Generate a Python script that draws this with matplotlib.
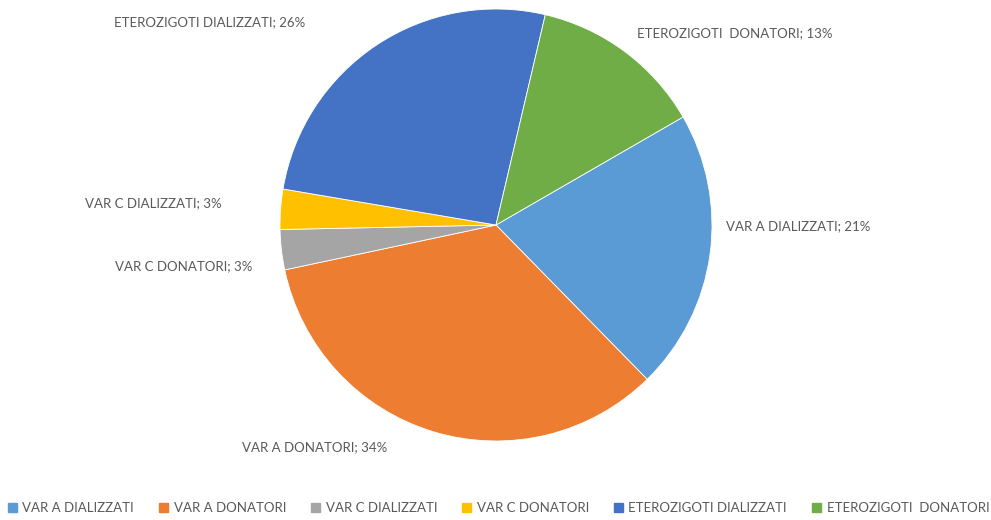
import matplotlib.pyplot as plt

# --- DATA ---
categories = ['VAR A DIALIZZATI', 'VAR A DONATORI', 'VAR C DIALIZZATI',
              'VAR C DONATORI', 'ETEROZIGOTI DIALIZZATI', 'ETEROZIGOTI  DONATORI']
percent = [21, 34, 3, 3, 26, 13]
# slice labels as printed on the chart (the two VAR C labels are swapped there)
slice_names = ['VAR A DIALIZZATI', 'VAR A DONATORI', 'VAR C DONATORI',
               'VAR C DIALIZZATI', 'ETEROZIGOTI DIALIZZATI', 'ETEROZIGOTI  DONATORI']
colors = ['#5B9BD5', '#ED7D31', '#A5A5A5', '#FFC000', '#4472C4', '#70AD47']

# label anchors in pixels (x, y from top) and alignment
CX, CY, R = 496, 225, 216
label_pos = [(726, 226, 'left'), (242, 447, 'left'), (252, 266, 'right'),
             (222, 203, 'right'), (305, 22, 'right'), (637, 33, 'left')]

plt.rcParams['font.family'] = ['Lato', 'DejaVu Sans']
TXT = '#595959'

fig = plt.figure(figsize=(9.91, 5.2), dpi=100)
ax = fig.add_axes([(CX - R) / 991, (520 - CY - R) / 520, 2 * R / 991, 2 * R / 520])

ax.pie(percent, colors=colors, startangle=30, counterclock=False,
       wedgeprops=dict(edgecolor='white', linewidth=0.6))
ax.set_xlim(-1, 1)
ax.set_ylim(-1, 1)
ax.set_aspect('equal')
ax.axis('off')

for name, p, (px, py, ha) in zip(slice_names, percent, label_pos):
    ax.text((px - CX) / R, (CY - py) / R, f'{name}; {p}%', ha=ha, va='center',
            fontsize=9.5, color=TXT)

handles = [plt.Rectangle((0, 0), 1, 1, color=c) for c in colors]
fig.legend(handles, categories, loc='center', bbox_to_anchor=(0.503, 12 / 520),
           ncol=6, frameon=False, fontsize=9.5, labelcolor=TXT,
           handlelength=0.7, handleheight=0.7, handletextpad=0.4, columnspacing=1.9)

fig.savefig('out.png', dpi=100, facecolor='white')
